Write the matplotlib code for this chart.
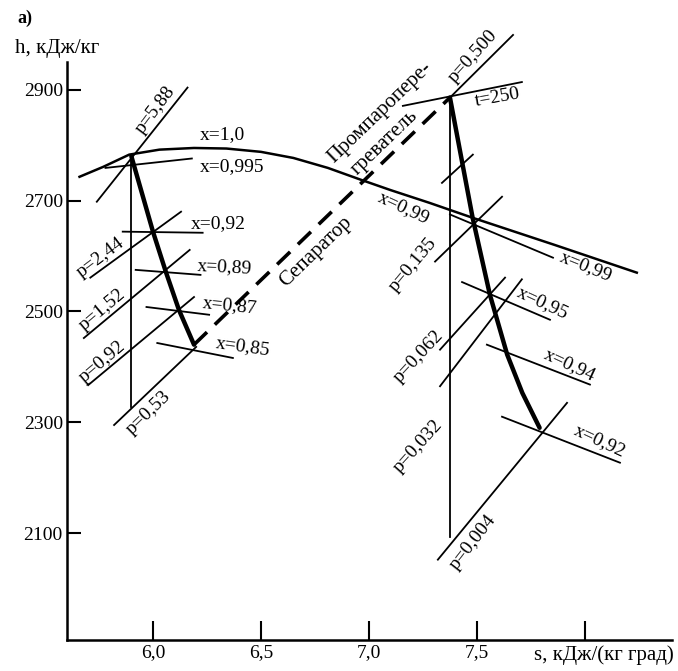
import numpy as np
import matplotlib
matplotlib.use('Agg')
import matplotlib.pyplot as plt

plt.rcParams['font.family'] = ['Liberation Serif', 'DejaVu Serif']
plt.rcParams['axes.linewidth'] = 1.8

# saturation line x=1,0 (s in kJ/(kg K), h in kJ/kg)
sat_s = [5.66, 5.77, 5.89, 6.03, 6.19, 6.34, 6.50, 6.65, 6.81, 6.96, 7.10, 7.28, 7.48, 7.86, 8.24]
sat_h = [2743, 2761, 2783, 2792, 2795, 2794, 2788, 2777, 2759, 2738, 2719, 2696, 2669, 2620, 2570]

# HP and LP expansion lines (thick)
hp_s = [5.90, 6.00, 6.06, 6.12, 6.19]
hp_h = [2780, 2644, 2571, 2503, 2440]
lp_s = [7.375, 7.48, 7.56, 7.64, 7.71, 7.79]
lp_h = [2886, 2669, 2530, 2422, 2353, 2290]

# separator + reheater (dashed)
sep_s = [6.19, 7.375]
sep_h = [2440, 2886]

# isentropes (thin verticals)
hp_vert_s = [5.90, 5.90]
hp_vert_h = [2780, 2328]
lp_vert_s = [7.375, 7.375]
lp_vert_h = [2886, 2093]

# isobars, HP part
hp_p_names = ['5,88', '2,44', '1,52', '0,92', '0,53']
hp_p_s = [(5.74, 6.16), (5.71, 6.13), (5.68, 6.17), (5.70, 6.19), (5.82, 6.20)]
hp_p_h = [(2698, 2904), (2561, 2680), (2452, 2611), (2367, 2526), (2295, 2436)]

# dryness lines, HP part
hp_x_names = ['0,995', '0,92', '0,89', '0,87', '0,85']
hp_x_s = [(5.78, 6.18), (5.86, 6.23), (5.92, 6.22), (5.97, 6.26), (6.02, 6.37)]
hp_x_h = [(2759, 2776), (2644, 2642), (2575, 2566), (2508, 2494), (2443, 2416)]

# isobars, LP part
lp_p_names = ['0,500', '', '0,135', '0,062', '0,032', '0,004']
lp_p_s = [(7.375, 7.667), (7.338, 7.481), (7.306, 7.616), (7.329, 7.630), (7.329, 7.708), (7.319, 7.917)]
lp_p_h = [(2886, 2999), (2732, 2783), (2590, 2707), (2431, 2561), (2365, 2558), (2052, 2335)]

# dryness lines, LP part
lp_x_names = ['0,99', '0,95', '0,94', '0,92']
lp_x_s = [(7.375, 7.852), (7.431, 7.838), (7.546, 8.023), (7.616, 8.162)]
lp_x_h = [(2675, 2597), (2553, 2485), (2440, 2368), (2310, 2227)]

# isotherm t=250
t_s = [7.157, 7.708]
t_h = [2871, 2914]

fig = plt.figure(figsize=(6.78, 6.71), dpi=100)
ax = fig.add_axes([67/678, 31/671, 605/678, 625/671])
ax.set_xlim(5.602, 8.403)
ax.set_ylim(1907, 3035)

k = 'k'
thin = 1.3
ax.plot(sat_s, sat_h, color=k, lw=1.8, solid_joinstyle='round')
ax.plot(hp_s, hp_h, color=k, lw=3.2, solid_capstyle='round', solid_joinstyle='round')
ax.plot(lp_s, lp_h, color=k, lw=3.2, solid_capstyle='round', solid_joinstyle='round')
ax.plot(sep_s, sep_h, color=k, lw=2.6, linestyle=(0, (5, 3)))
ax.plot(hp_vert_s, hp_vert_h, color=k, lw=thin)
ax.plot(lp_vert_s, lp_vert_h, color=k, lw=thin)
ax.plot(t_s, t_h, color=k, lw=thin)
for ss, hh in zip(hp_p_s + hp_x_s + lp_p_s + lp_x_s, hp_p_h + hp_x_h + lp_p_h + lp_x_h):
    ax.plot(ss, hh, color=k, lw=thin)

fs = 14
# HP labels
ax.text(6.01, 2864, 'p=' + hp_p_names[0], rotation=53, fontsize=fs, ha='center', va='center')
for (x, y, r), n in zip([(5.755, 2597, 37), (5.764, 2503, 40), (5.764, 2409, 40), (5.977, 2317, 44)], hp_p_names[1:]):
    ax.text(x, y, 'p=' + n, rotation=r, fontsize=fs, ha='center', va='center')
ax.text(6.324, 2819, 'x=1,0', fontsize=fs, ha='center', va='center')
for (x, y, r), n in zip([(6.366, 2761, 0), (6.301, 2658, 0), (6.333, 2581, -3), (6.356, 2510, -6), (6.417, 2436, -8)], hp_x_names):
    ax.text(x, y, 'x=' + n, rotation=r, fontsize=fs, ha='center', va='center')

# LP labels
for (x, y, r), n in zip([(7.481, 2960, 48), (7.204, 2584, 50), (7.227, 2418, 47), (7.227, 2257, 48), (7.481, 2084, 52)],
                        [lp_p_names[0]] + lp_p_names[2:]):
    ax.text(x, y, 'p=' + n, rotation=r, fontsize=fs, ha='center', va='center')
ax.text(7.597, 2886, 't=250', rotation=10, fontsize=fs, ha='center', va='center')
ax.text(7.162, 2687, 'x=0,99', rotation=-25, fontsize=fs, ha='center', va='center')
for (x, y, r), n in zip([(8.005, 2581, -22), (7.806, 2516, -25), (7.931, 2404, -25), (8.069, 2266, -25)], lp_x_names):
    ax.text(x, y, 'x=' + n, rotation=r, fontsize=fs, ha='center', va='center')

ax.text(6.755, 2608, 'Сепаратор', rotation=44, fontsize=15, ha='center', va='center')
ax.text(7.051, 2858, 'Промпароперe-', rotation=44, fontsize=15, ha='center', va='center')
ax.text(7.074, 2804, 'греватель', rotation=44, fontsize=15, ha='center', va='center')

# axes
ax.spines['top'].set_visible(False)
ax.spines['right'].set_visible(False)
ax.spines['left'].set_bounds(1907, 2950)
ax.set_yticks([2100, 2300, 2500, 2700, 2900])
ax.set_yticklabels(['2100', '2300', '2500', '2700', '2900'])
ax.set_xticks([6.0, 6.5, 7.0, 7.5, 8.0])
ax.set_xticklabels(['6,0', '6,5', '7,0', '7,5', ''])
ax.tick_params(axis='y', direction='in', length=10, width=1.5, labelsize=14, pad=3)
ax.tick_params(axis='x', direction='in', length=14, width=1.5, labelsize=14, pad=3)

fig.text(15/678, 1 - 49/671, 'h, кДж/кг', fontsize=15, ha='left', va='center')
fig.text(17/678, 1 - 18/671, 'а)', fontsize=13, ha='left', va='center', weight='bold')
fig.text(674/678, 1 - 655/671, 's, кДж/(кг град)', fontsize=15, ha='right', va='center')

fig.savefig('out.png', dpi=100)
